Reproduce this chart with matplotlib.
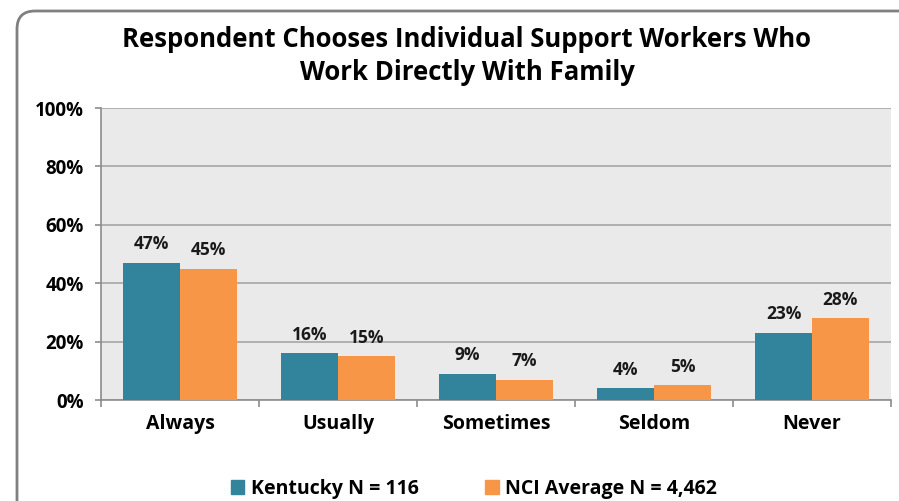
import numpy as np
import matplotlib.pyplot as plt
from matplotlib.patches import FancyBboxPatch, Patch

# Data
categories = ["Always", "Usually", "Sometimes", "Seldom", "Never"]
kentucky = [47, 16, 9, 4, 23]
nci_avg = [45, 15, 7, 5, 28]
series_names = ["Kentucky N = 116", "NCI Average N = 4,462"]
y_ticks = [0, 20, 40, 60, 80, 100]

TEAL = "#31849b"
ORANGE = "#f79646"
FONT = "Open Sans"

W, H = 899, 501
fig = plt.figure(figsize=(W / 100, H / 100), dpi=100)

# background axes in pixel coords for the rounded frame
bg = fig.add_axes([0, 0, 1, 1])
bg.set_xlim(0, W)
bg.set_ylim(H, 0)
bg.axis("off")
frame = FancyBboxPatch((17, 11), W + 40, H + 40,
                       boxstyle="round,pad=0,rounding_size=18",
                       fill=False, edgecolor="#808080", linewidth=2)
bg.add_patch(frame)

ax = fig.add_axes([101 / W, 1 - 400 / H, (891 - 101) / W, (400 - 108) / H])
ax.set_facecolor("#eaeaea")

x = np.arange(len(categories))
w = 0.36
b1 = ax.bar(x - w / 2, kentucky, w, color=TEAL, zorder=3)
b2 = ax.bar(x + w / 2, nci_avg, w, color=ORANGE, zorder=3)

for bars, vals in [(b1, kentucky), (b2, nci_avg)]:
    for bar, v in zip(bars, vals):
        ax.text(bar.get_x() + bar.get_width() / 2, v + 6.3, f"{v}%",
                ha="center", va="center", fontsize=12.5, fontweight="bold",
                family=FONT, color="#1a1a1a")

ax.set_xlim(-0.5, len(categories) - 0.5)
ax.set_ylim(0, 100)
ax.set_yticks(y_ticks)
ax.set_yticklabels([f"{t}%" for t in y_ticks], fontsize=13.5, fontweight="bold",
                   family=FONT)
ax.yaxis.grid(True, color="#a6a6a6", linewidth=1.2, zorder=0)
ax.set_axisbelow(True)

ax.set_xticks(x)
ax.set_xticklabels(categories, fontsize=14, fontweight="bold", family=FONT)
ax.tick_params(axis="x", length=0, pad=10)
ax.set_xticks(np.arange(len(categories) + 1) - 0.5, minor=True)
ax.tick_params(axis="x", which="minor", length=5, color="#8c8c8c", width=1.2)
ax.tick_params(axis="y", length=4.5, color="#8c8c8c", width=1.2, pad=8)

for side in ["top", "right"]:
    ax.spines[side].set_visible(False)
for side in ["left", "bottom"]:
    ax.spines[side].set_color("#8c8c8c")
    ax.spines[side].set_linewidth(1.2)

fig.text(467 / W, 1 - 56 / H,
         "Respondent Chooses Individual Support Workers Who\nWork Directly With Family",
         ha="center", va="center", fontsize=18.5, fontweight="bold", family=FONT,
         linespacing=1.25)

handles = [Patch(color=TEAL), Patch(color=ORANGE)]
fig.legend(handles, series_names, loc="center", bbox_to_anchor=(474 / W, 1 - 489 / H),
           ncol=2, frameon=False, handlelength=0.7, handleheight=0.7,
           handletextpad=0.35, columnspacing=3.4,
           prop={"family": FONT, "weight": "bold", "size": 14})

fig.savefig("out.png", dpi=100)
